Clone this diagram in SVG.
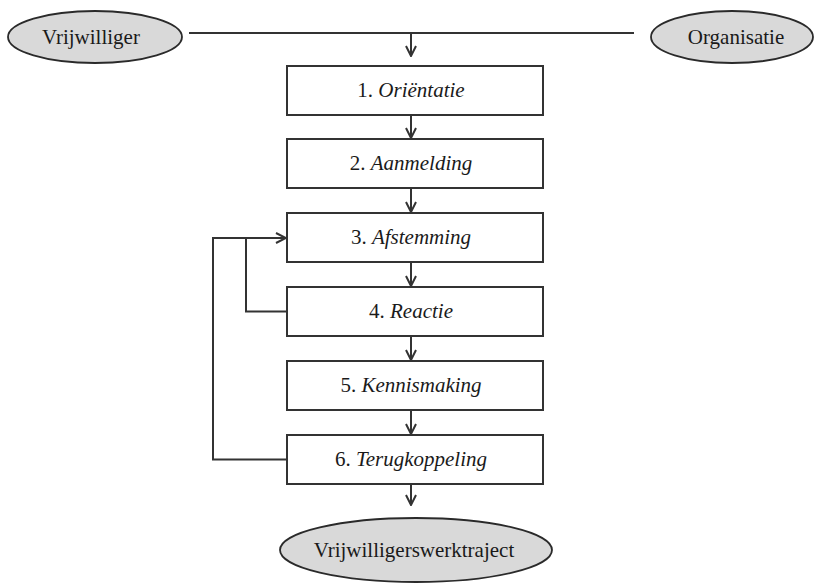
<svg xmlns="http://www.w3.org/2000/svg" width="814" height="587" viewBox="0 0 814 587">
<style>
.ell{fill:#d9d9d9;stroke:#2a2a2a;stroke-width:1.8}
.box{fill:#fff;stroke:#333;stroke-width:2}
.ln{fill:none;stroke:#333;stroke-width:2}
text{font-family:"Liberation Serif","Times New Roman",serif;font-size:21px;fill:#1a1a1a;text-anchor:middle}
.i{font-style:italic}
</style>
<defs>
<marker id="ah" viewBox="0 0 12 12" refX="11" refY="6" markerWidth="12" markerHeight="12" markerUnits="userSpaceOnUse" orient="auto">
<path d="M1,1 L11,6 L1,11" fill="none" stroke="#333" stroke-width="2"/>
</marker>
</defs>
<g id="connectors">
<line class="ln" x1="189" y1="33" x2="634" y2="33"/>
<line class="ln" x1="411" y1="33" x2="411" y2="56" marker-end="url(#ah)"/>
<line class="ln" x1="411" y1="115" x2="411" y2="138" marker-end="url(#ah)"/>
<line class="ln" x1="411" y1="188" x2="411" y2="212" marker-end="url(#ah)"/>
<line class="ln" x1="411" y1="262" x2="411" y2="286" marker-end="url(#ah)"/>
<line class="ln" x1="411" y1="336" x2="411" y2="360" marker-end="url(#ah)"/>
<line class="ln" x1="411" y1="410" x2="411" y2="434" marker-end="url(#ah)"/>
<line class="ln" x1="411" y1="484" x2="411" y2="505" marker-end="url(#ah)"/>
<polyline class="ln" points="287,459.5 213,459.5 213,238 286,238" marker-end="url(#ah)"/>
<polyline class="ln" points="287,311.5 246,311.5 246,238"/>
</g>
<g id="vrijwilliger"><ellipse class="ell" cx="95" cy="37" rx="87" ry="26"/><text x="91" y="44">Vrijwilliger</text></g>
<g id="organisatie"><ellipse class="ell" cx="732" cy="37" rx="81" ry="26"/><text x="736" y="44">Organisatie</text></g>
<g id="n1"><rect class="box" x="287" y="66" width="256" height="49"/><text x="411" y="97">1. <tspan class="i">Oriëntatie</tspan></text></g>
<g id="n2"><rect class="box" x="287" y="139" width="256" height="49"/><text x="411" y="170">2. <tspan class="i">Aanmelding</tspan></text></g>
<g id="n3"><rect class="box" x="287" y="213" width="256" height="49"/><text x="411" y="244">3. <tspan class="i">Afstemming</tspan></text></g>
<g id="n4"><rect class="box" x="287" y="287" width="256" height="49"/><text x="411" y="318">4. <tspan class="i">Reactie</tspan></text></g>
<g id="n5"><rect class="box" x="287" y="361" width="256" height="49"/><text x="411" y="392">5. <tspan class="i">Kennismaking</tspan></text></g>
<g id="n6"><rect class="box" x="287" y="435" width="256" height="49"/><text x="411" y="466">6. <tspan class="i">Terugkoppeling</tspan></text></g>
<g id="traject"><ellipse class="ell" cx="416" cy="550" rx="136" ry="32"/><text x="414" y="557">Vrijwilligerswerktraject</text></g>
</svg>
